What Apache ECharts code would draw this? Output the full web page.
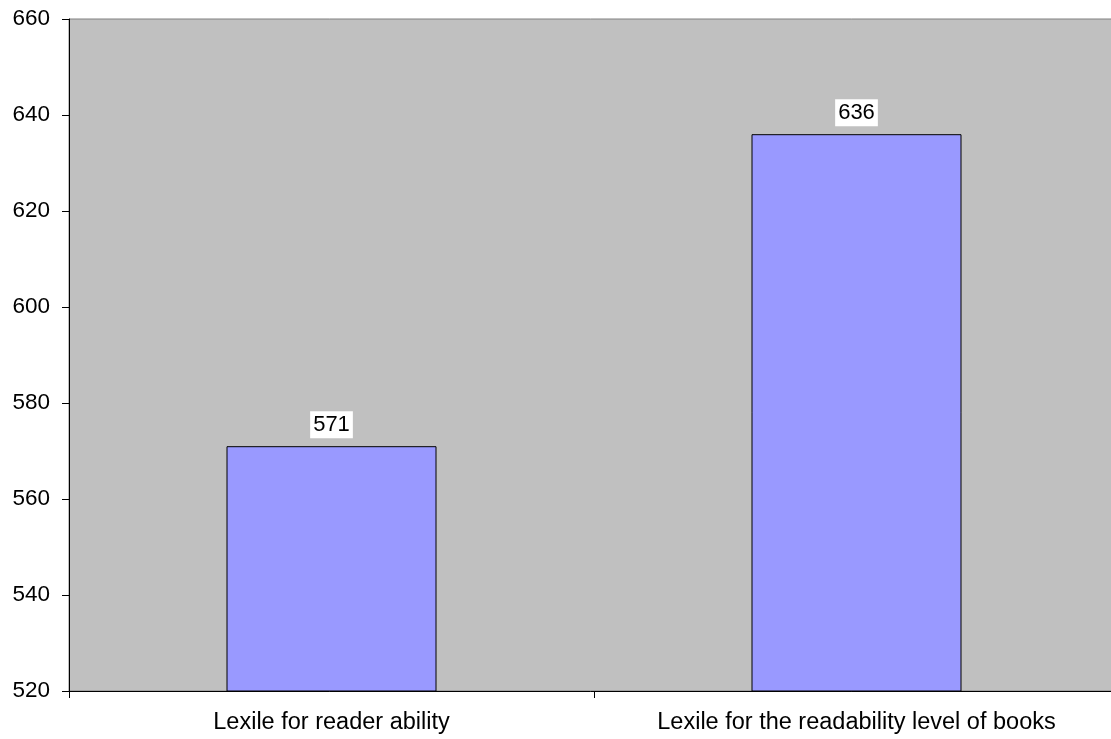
<!DOCTYPE html>
<html>
<head>
<meta charset="utf-8">
<script src="https://cdn.jsdelivr.net/npm/echarts@6/dist/echarts.min.js"></script>
<style>
html,body{margin:0;padding:0;background:#fff;overflow:hidden;}
#main{width:1111px;height:739px;}
</style>
</head>
<body>
<div id="main"></div>
<script>
const categories = ["Lexile for reader ability", "Lexile for the readability level of books"];
const values = [571, 636];
const yMin = 520, yMax = 660, yStep = 20;

const chart = echarts.init(document.getElementById('main'));
chart.setOption({
  animation: false,
  textStyle: { fontFamily: 'Liberation Sans, Arial, sans-serif' },
  grid: {
    left: 69, top: 19, width: 1050, bottom: 48,
    containLabel: false, outerBoundsMode: 'none',
    show: true, backgroundColor: '#C0C0C0', borderColor: '#808080', borderWidth: 1
  },
  xAxis: {
    type: 'category',
    data: categories,
    axisLine: { lineStyle: { color: '#000', width: 1 } },
    axisTick: { show: true, length: 7, lineStyle: { color: '#000' } },
    axisLabel: { color: '#000', fontSize: 23.5, margin: 20 },
    splitLine: { show: false }
  },
  yAxis: {
    type: 'value',
    min: yMin, max: yMax, interval: yStep,
    axisLine: { show: true, lineStyle: { color: '#000', width: 1 } },
    axisTick: { show: true, length: 7, lineStyle: { color: '#000' } },
    axisLabel: { color: '#000', fontSize: 22.5, margin: 19 },
    splitLine: { show: false }
  },
  series: [{
    type: 'bar',
    data: values,
    barWidth: '40%',
    itemStyle: { color: '#9999FF', borderColor: '#000', borderWidth: 1 },
    label: {
      show: true, position: 'top', distance: 8,
      color: '#000', fontSize: 22,
      backgroundColor: '#fff', padding: [3, 3, 2, 3]
    }
  }]
});
</script>
</body>
</html>
